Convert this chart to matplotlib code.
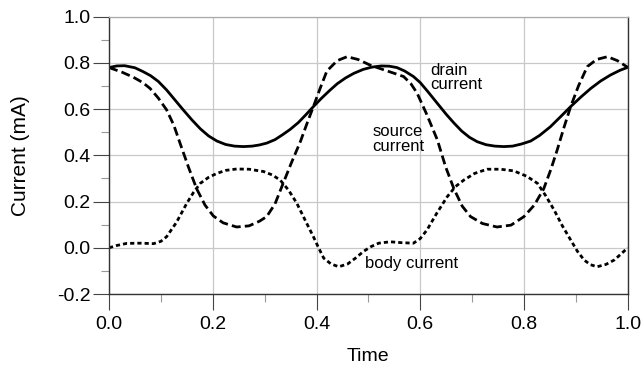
import matplotlib
matplotlib.use('Agg')
import matplotlib.pyplot as plt
from matplotlib.ticker import MultipleLocator

plt.rcParams['font.family'] = ['Liberation Sans', 'DejaVu Sans']
plt.rcParams['lines.scale_dashes'] = False

# Values
drain_t = [0.0, 0.015, 0.03, 0.05, 0.066, 0.08, 0.095, 0.111, 0.127, 0.143, 0.16,
           0.176, 0.192, 0.208, 0.225, 0.242, 0.259, 0.276, 0.29, 0.304, 0.32, 0.335,
           0.349, 0.365, 0.38, 0.394, 0.41, 0.425, 0.44, 0.456, 0.472, 0.49, 0.507,
           0.525, 0.54, 0.555, 0.57, 0.587, 0.6, 0.615, 0.633, 0.65, 0.665, 0.68,
           0.695, 0.71, 0.727, 0.744, 0.761, 0.778, 0.795, 0.813, 0.83, 0.851, 0.87,
           0.89, 0.91, 0.929, 0.948, 0.967, 0.985, 1.0]
drain_i = [0.78, 0.787, 0.788, 0.779, 0.762, 0.745, 0.72, 0.683, 0.64, 0.597, 0.553,
           0.515, 0.484, 0.462, 0.447, 0.44, 0.438, 0.44, 0.445, 0.453, 0.468, 0.49,
           0.512, 0.542, 0.577, 0.611, 0.648, 0.68, 0.71, 0.735, 0.755, 0.772, 0.782,
           0.787, 0.786, 0.78, 0.765, 0.741, 0.715, 0.675, 0.625, 0.578, 0.54, 0.505,
           0.478, 0.459, 0.446, 0.44, 0.438, 0.44, 0.449, 0.462, 0.486, 0.524, 0.566,
           0.611, 0.653, 0.69, 0.722, 0.748, 0.768, 0.781]

source_t = [0.0, 0.025, 0.047, 0.065, 0.079, 0.095, 0.111, 0.125, 0.137, 0.153, 0.169,
            0.185, 0.201, 0.22, 0.246, 0.27, 0.29, 0.304, 0.32, 0.335, 0.352, 0.369,
            0.382, 0.394, 0.407, 0.42, 0.44, 0.459, 0.48, 0.504, 0.53, 0.55, 0.568,
            0.582, 0.594, 0.612, 0.633, 0.649, 0.665, 0.681, 0.697, 0.72, 0.748, 0.775,
            0.8, 0.82, 0.838, 0.852, 0.864, 0.877, 0.89, 0.905, 0.922, 0.94, 0.961,
            0.98, 1.0]
source_i = [0.78, 0.76, 0.738, 0.715, 0.69, 0.648, 0.597, 0.53, 0.452, 0.35, 0.255,
            0.185, 0.138, 0.108, 0.09, 0.095, 0.115, 0.135, 0.19, 0.275, 0.37, 0.46,
            0.54, 0.611, 0.69, 0.765, 0.81, 0.827, 0.815, 0.79, 0.77, 0.755, 0.741,
            0.71, 0.669, 0.58, 0.467, 0.35, 0.255, 0.18, 0.135, 0.105, 0.09, 0.098,
            0.135, 0.185, 0.255, 0.34, 0.423, 0.52, 0.611, 0.7, 0.784, 0.815, 0.827,
            0.81, 0.781]

body_t = [0.0, 0.015, 0.034, 0.06, 0.086, 0.1, 0.111, 0.13, 0.15, 0.163, 0.176, 0.192,
          0.208, 0.225, 0.246, 0.27, 0.298, 0.315, 0.33, 0.346, 0.362, 0.378, 0.394,
          0.404, 0.414, 0.428, 0.443, 0.46, 0.475, 0.491, 0.505, 0.52, 0.542, 0.565,
          0.587, 0.6, 0.613, 0.632, 0.652, 0.668, 0.684, 0.705, 0.729, 0.755, 0.78,
          0.805, 0.826, 0.842, 0.858, 0.874, 0.89, 0.903, 0.916, 0.928, 0.941, 0.958,
          0.974, 0.988, 1.0]
body_i = [0.0, 0.01, 0.019, 0.02, 0.018, 0.028, 0.048, 0.11, 0.193, 0.24, 0.279, 0.305,
          0.322, 0.335, 0.341, 0.34, 0.33, 0.315, 0.293, 0.25, 0.193, 0.12, 0.048,
          0.0, -0.045, -0.07, -0.082, -0.07, -0.045, -0.015, 0.005, 0.02, 0.026, 0.022,
          0.02, 0.04, 0.077, 0.15, 0.221, 0.265, 0.293, 0.322, 0.34, 0.34, 0.333,
          0.31, 0.279, 0.225, 0.164, 0.095, 0.034, -0.015, -0.053, -0.073, -0.082,
          -0.072, -0.053, -0.025, 0.0]

fig = plt.figure(figsize=(6.44, 3.80), dpi=100)
ax = fig.add_axes([0.1693, 0.2263, 0.8054, 0.7297])

lw = 2.0
ax.plot(drain_t, drain_i, color='black', lw=lw, solid_joinstyle='round')
ax.plot(source_t, source_i, color='black', lw=lw, dashes=(6.5, 3.0))
ax.plot(body_t, body_i, color='black', lw=lw, dashes=(3.0, 2.2))

ax.set_xlim(0, 1)
ax.set_ylim(-0.2, 1.0)
ax.xaxis.set_major_locator(MultipleLocator(0.2))
ax.xaxis.set_minor_locator(MultipleLocator(0.1))
ax.yaxis.set_major_locator(MultipleLocator(0.2))
ax.yaxis.set_minor_locator(MultipleLocator(0.1))
ax.xaxis.set_major_formatter(plt.FormatStrFormatter('%.1f'))
ax.yaxis.set_major_formatter(plt.FormatStrFormatter('%.1f'))

ax.grid(True, which='major', color='#c8c8c8', lw=0.9)
ax.set_axisbelow(True)

for side in ['left', 'bottom', 'right']:
    ax.spines[side].set_color('#333333')
    ax.spines[side].set_linewidth(1.0)
ax.spines['top'].set_color('#aaaaaa')
ax.spines['top'].set_linewidth(0.9)

ax.tick_params(which='major', direction='out', length=11.5, width=0.8,
               color='#444444', labelsize=14, pad=2)
ax.tick_params(which='minor', direction='out', length=5.5, width=0.8,
               color='#999999')
ax.tick_params(axis='x', which='major', pad=4)

ax.set_xlabel('Time', fontsize=14)
ax.set_ylabel('Current (mA)', fontsize=15)
ax.xaxis.set_label_coords(0.5, -0.227)
ax.yaxis.set_label_coords(-0.17, 0.5)
ax.xaxis.label.set_va('center')
ax.yaxis.label.set_va('center')

ax.text(0.62, 0.80, 'drain\ncurrent', fontsize=12, va='top', ha='left',
        linespacing=0.95)
ax.text(0.508, 0.535, 'source\ncurrent', fontsize=12, va='top', ha='left',
        linespacing=0.95)
ax.text(0.494, -0.035, 'body current', fontsize=12, va='top', ha='left')

fig.savefig('out.png', dpi=100)
